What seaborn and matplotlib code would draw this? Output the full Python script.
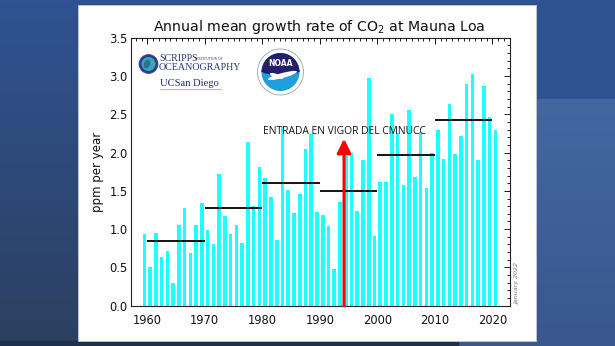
import numpy as np
import pandas as pd
import matplotlib
matplotlib.use("Agg")
import matplotlib.pyplot as plt
import seaborn as sns
from matplotlib.patches import Rectangle, Circle, Wedge, Ellipse
from matplotlib.ticker import MultipleLocator, FixedLocator, FuncFormatter

# ---------------- data ----------------
years = list(range(1959, 2021))
growth = [0.94, 0.50, 0.95, 0.64, 0.71, 0.30, 1.05, 1.27, 0.69, 1.05,
          1.34, 0.99, 0.80, 1.72, 1.17, 0.93, 1.05, 0.82, 2.14, 1.30,
          1.81, 1.67, 1.42, 0.86, 2.33, 1.51, 1.21, 1.46, 2.05, 2.24,
          1.23, 1.19, 1.04, 0.48, 1.36, 1.95, 2.00, 1.24, 1.90, 2.97,
          0.91, 1.61, 1.61, 2.50, 2.26, 1.58, 2.56, 1.68, 2.27, 1.54,
          1.99, 2.29, 1.91, 2.64, 1.98, 2.21, 2.90, 3.02, 1.90, 2.87,
          2.47, 2.30]
decade_start = [1960, 1970, 1980, 1990, 2000, 2010]
decade_end = [1970, 1980, 1990, 2000, 2010, 2020]
decade_mean = [0.85, 1.27, 1.60, 1.50, 1.97, 2.42]
arrow_year = 1994.2
arrow_top = 2.18
title = "Annual mean growth rate of CO$_2$ at Mauna Loa"
ylabel = "ppm per year"
annot = "ENTRADA EN VIGOR DEL CMNUCC"
stamp = "January 2022"
xticks = [1960, 1970, 1980, 1990, 2000, 2010, 2020]
yticks = [0.0, 0.5, 1.0, 1.5, 2.0, 2.5, 3.0, 3.5]

df = pd.DataFrame({"year": np.array(years) + 0.5, "growth": growth})

sns.set_theme(style="white")
plt.rcParams['font.family'] = ['DejaVu Sans']

W, H = 615, 346
fig = plt.figure(figsize=(W / 100, H / 100), dpi=100)

# ---------- slide background ----------
bg = fig.add_axes([0, 0, 1, 1], zorder=0)
bg.axis("off")
yy = np.linspace(0, 1, 100)[:, None]
top_c = np.array([0x2f, 0x53, 0x91]) / 255
bot_c = np.array([0x2c, 0x40, 0x60]) / 255
grad = top_c[None, None, :] * (1 - yy[..., None]) + bot_c[None, None, :] * yy[..., None]
grad = np.repeat(grad, 2, axis=1)
bg.imshow(grad, extent=[0, 458, H, 0], aspect="auto", zorder=0)
bg.add_patch(Rectangle((458, 0), W - 458, 99, color="#2f5392", zorder=0))
top_c2 = np.array([0x44, 0x67, 0xa1]) / 255
bot_c2 = np.array([0x38, 0x58, 0x8e]) / 255
grad2 = top_c2[None, None, :] * (1 - yy[..., None]) + bot_c2[None, None, :] * yy[..., None]
grad2 = np.repeat(grad2, 2, axis=1)
bg.imshow(grad2, extent=[458, W, H, 99], aspect="auto", zorder=0)
bg.add_patch(Rectangle((0, 341), 458, 5, color="#1f2e4c", zorder=1))
bg.add_patch(Rectangle((78, 5), 458, 336, facecolor="white",
                       edgecolor="#c8c8c8", lw=0.6, zorder=2))
bg.set_xlim(0, W)
bg.set_ylim(H, 0)

# ---------- main chart ----------
ax = fig.add_axes([130.6 / W, 1 - 305.7 / H, (510 - 130.6) / W, (305.7 - 37.7) / H], zorder=2)
ax.set_facecolor("white")
sns.barplot(data=df, x="year", y="growth", native_scale=True, width=0.62,
            color="#1effff", saturation=1, ax=ax, zorder=2, linewidth=0)
ax.hlines(decade_mean, decade_start, decade_end, colors="black", lw=1.3, zorder=3)
ax.annotate("", xy=(arrow_year, arrow_top), xytext=(arrow_year, 0),
            arrowprops=dict(arrowstyle="-|>,head_width=0.35,head_length=0.7",
                            color="#ff0000", lw=2.2, shrinkA=0, shrinkB=0),
            zorder=4)
ax.text(1980.2, 2.24, annot, fontsize=7.4, family=["Open Sans", "DejaVu Sans"],
        color="#111111", zorder=5)

ax.set_xlim(1957.1, 2023.05)
ax.set_ylim(0, 3.5)
ax.xaxis.set_major_locator(FixedLocator(xticks))
ax.xaxis.set_major_formatter(FuncFormatter(lambda v, p: f"{v:.0f}"))
ax.yaxis.set_major_locator(FixedLocator(yticks))
ax.yaxis.set_major_formatter(FuncFormatter(lambda v, p: f"{v:.1f}"))
ax.xaxis.set_minor_locator(MultipleLocator(1))
ax.yaxis.set_minor_locator(MultipleLocator(0.1))
ax.tick_params(which="both", direction="in", top=True, right=True,
               color="#222222", width=0.7)
ax.tick_params(which="major", length=4.5, labelsize=8.3, colors="#111111")
ax.tick_params(which="minor", length=2)
ax.tick_params(axis="x", which="major", pad=6)
ax.tick_params(axis="y", which="major", pad=2)
ax.set_xlabel("")
ax.set_ylabel(ylabel, fontsize=8.5, color="#111111", labelpad=4)
for s in ax.spines.values():
    s.set_color("#222222")
    s.set_linewidth(0.8)
ax.grid(False)

fig.text((395 + 1235) / 2 / 2.55 / W, 1 - 27 / H, title, ha="center", va="center",
         fontsize=10.2, color="#111111")
fig.text(518 / W, 1 - 284 / H, stamp, rotation=90, ha="center", va="center",
         fontsize=4.6, color="#777777", style="italic")

# ---------- logos overlay ----------
ov = fig.add_axes([0, 0, 1, 1], zorder=5)
ov.set_xlim(0, W)
ov.set_ylim(H, 0)
ov.axis("off")
ov.patch.set_alpha(0)
# Scripps globe
ov.add_patch(Circle((148.5, 64), 9.5, facecolor="#2b3a8c", edgecolor="#3a4aa0", lw=0.5))
ov.add_patch(Circle((148.5, 64), 7, facecolor="#3aa6b8", edgecolor="none"))
ov.add_patch(Ellipse((147, 64), 6, 9, angle=25, facecolor="#2c6f8e", edgecolor="none"))
ov.text(159, 58.5, "SCRIPPS", fontsize=7.2, family=["Liberation Serif", "DejaVu Serif"],
        color="#2a3578", va="center", ha="left")
ov.text(195, 58.5, "INSTITUTION OF", fontsize=2.6, family=["Liberation Serif", "DejaVu Serif"],
        color="#2a3578", va="center", ha="left")
ov.text(159, 67.5, "OCEANOGRAPHY", fontsize=7.2, family=["Liberation Serif", "DejaVu Serif"],
        color="#2a3578", va="center", ha="left")
ov.text(160, 83, "UCSan Diego", fontsize=7.6, family=["Liberation Serif", "DejaVu Serif"],
        color="#1b2f6e", va="center", ha="left")
ov.plot([160, 221], [88.5, 88.5], color="#e8b84a", lw=0.8)
# NOAA
cx, cy = 280.5, 72
ov.add_patch(Circle((cx, cy), 23, facecolor="white", edgecolor="#9aa0b8", lw=0.6))
ov.add_patch(Circle((cx, cy), 19, facecolor="#1ea0dc", edgecolor="none"))
ov.add_patch(Wedge((cx, cy), 19, 180, 360, facecolor="#231f6e", edgecolor="none"))
ov.add_patch(Ellipse((cx, cy - 1), 38, 8, facecolor="#231f6e", edgecolor="none"))
ov.add_patch(Ellipse((cx + 2, cy + 3.5), 30, 5, angle=-15, facecolor="white", edgecolor="none"))
ov.add_patch(Ellipse((cx - 4, cy + 4), 14, 4, angle=20, facecolor="white", edgecolor="none"))
ov.text(cx, cy - 9, "NOAA", fontsize=5.5, color="white", ha="center", va="center",
        weight="bold")

fig.savefig("out.png", dpi=100)
